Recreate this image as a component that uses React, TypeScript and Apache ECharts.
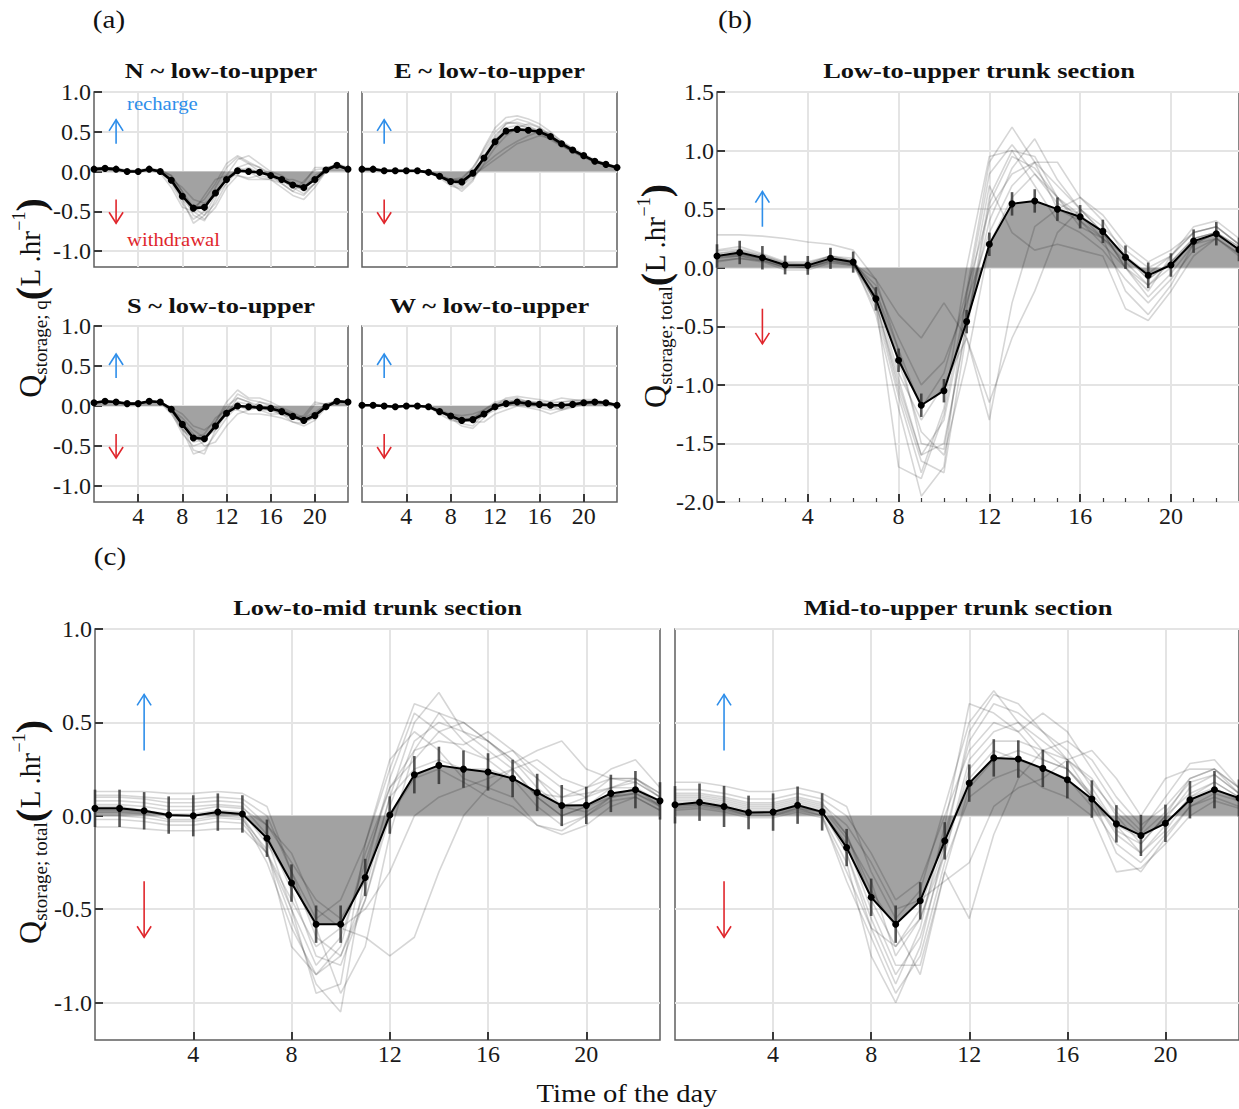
import React, { useEffect, useRef } from "react";
import * as echarts from "echarts";

const FONT = "'Liberation Serif', 'Times New Roman', serif";
const BLUE = "#2E8EEA";
const RED = "#E0262C";

const HOURS = [0, 1, 2, 3, 4, 5, 6, 7, 8, 9, 10, 11, 12, 13, 14, 15, 16, 17, 18, 19, 20, 21, 22, 23];
const X_TICKS = [4, 8, 12, 16, 20];
const Y_TICKS_SMALL = [-1.0, -0.5, 0.0, 0.5, 1.0];
const Y_TICKS_B = [-2.0, -1.5, -1.0, -0.5, 0.0, 0.5, 1.0, 1.5];

// ---- Panel (a): directional storage (mean of days) ----
const meanN = [0.03, 0.04, 0.03, 0.0, 0.0, 0.03, 0.0, -0.11, -0.31, -0.46, -0.45, -0.27, -0.1, 0.01, 0.0, -0.01, -0.05, -0.1, -0.17, -0.2, -0.1, 0.02, 0.08, 0.03];
const meanE = [0.03, 0.03, 0.01, 0.01, 0.01, 0.01, -0.01, -0.06, -0.125, -0.13, -0.02, 0.17, 0.375, 0.51, 0.53, 0.52, 0.5, 0.44, 0.35, 0.27, 0.2, 0.13, 0.09, 0.05];
const meanS = [0.04, 0.06, 0.05, 0.03, 0.03, 0.06, 0.05, -0.04, -0.23, -0.4, -0.41, -0.25, -0.09, 0.0, -0.01, -0.02, -0.03, -0.07, -0.13, -0.18, -0.12, -0.01, 0.06, 0.05];
const meanW = [0.01, 0.01, 0.0, -0.01, 0.0, 0.0, -0.01, -0.07, -0.125, -0.18, -0.17, -0.1, -0.01, 0.03, 0.05, 0.03, 0.02, 0.01, 0.01, 0.02, 0.04, 0.05, 0.04, 0.01];

const daysN = [
  [0.05, 0.05, 0.04, 0.02, 0.02, 0.04, 0.02, -0.05, -0.25, -0.55, -0.62, -0.35, -0.05, 0.15, 0.2, 0.1, 0.0, -0.05, -0.15, -0.25, -0.15, 0.02, 0.1, 0.05],
  [0.04, 0.04, 0.03, 0.01, 0.0, 0.03, 0.0, -0.15, -0.4, -0.6, -0.5, -0.2, 0.05, 0.18, 0.1, 0.05, -0.05, -0.1, -0.2, -0.22, -0.1, 0.05, 0.08, 0.04],
  [0.02, 0.03, 0.02, 0.0, -0.01, 0.02, -0.02, -0.2, -0.45, -0.5, -0.3, -0.1, -0.05, -0.05, -0.1, -0.1, -0.1, -0.15, -0.25, -0.3, -0.15, 0.0, 0.07, 0.03],
  [0.03, 0.04, 0.03, 0.0, 0.0, 0.03, 0.01, -0.08, -0.3, -0.45, -0.55, -0.4, -0.15, 0.05, 0.1, 0.0, -0.05, -0.1, -0.1, -0.15, 0.05, 0.05, 0.08, 0.02],
  [0.04, 0.05, 0.04, 0.01, 0.01, 0.03, 0.0, -0.12, -0.35, -0.5, -0.6, -0.45, -0.2, -0.05, -0.08, -0.05, -0.08, -0.12, -0.2, -0.28, -0.15, 0.0, 0.09, 0.04],
  [0.03, 0.03, 0.02, 0.0, 0.0, 0.02, 0.0, -0.1, -0.2, -0.35, -0.4, -0.3, -0.15, 0.0, 0.05, -0.02, -0.05, -0.15, -0.25, -0.12, 0.02, 0.04, 0.07, 0.03],
  [0.02, 0.04, 0.03, 0.0, 0.0, 0.04, 0.01, -0.05, -0.25, -0.45, -0.35, -0.15, 0.1, 0.2, 0.12, 0.05, -0.02, -0.1, -0.15, -0.2, -0.05, 0.03, 0.09, 0.04],
  [0.03, 0.04, 0.03, 0.0, 0.0, 0.03, 0.0, -0.12, -0.35, -0.65, -0.55, -0.3, -0.1, 0.05, 0.0, -0.08, -0.1, -0.2, -0.3, -0.35, -0.2, 0.0, 0.08, 0.03],
];
const daysE = [
  [0.03, 0.03, 0.02, 0.01, 0.01, 0.01, 0.0, -0.05, -0.15, -0.2, 0.0, 0.3, 0.55, 0.68, 0.7, 0.66, 0.6, 0.5, 0.38, 0.28, 0.2, 0.13, 0.09, 0.05],
  [0.03, 0.03, 0.01, 0.01, 0.01, 0.01, -0.01, -0.08, -0.18, -0.22, -0.1, 0.1, 0.3, 0.45, 0.55, 0.6, 0.55, 0.45, 0.35, 0.27, 0.2, 0.14, 0.1, 0.06],
  [0.02, 0.03, 0.01, 0.0, 0.0, 0.0, -0.02, -0.07, -0.1, -0.12, -0.05, 0.05, 0.15, 0.25, 0.35, 0.4, 0.45, 0.42, 0.33, 0.25, 0.18, 0.12, 0.08, 0.05],
  [0.03, 0.03, 0.01, 0.01, 0.01, 0.01, 0.0, -0.04, -0.1, -0.1, 0.05, 0.25, 0.45, 0.6, 0.62, 0.58, 0.5, 0.42, 0.33, 0.25, 0.19, 0.12, 0.08, 0.05],
  [0.03, 0.02, 0.01, 0.01, 0.01, 0.01, -0.01, -0.06, -0.14, -0.16, -0.05, 0.15, 0.4, 0.55, 0.58, 0.55, 0.52, 0.45, 0.36, 0.28, 0.2, 0.13, 0.09, 0.05],
  [0.03, 0.03, 0.02, 0.01, 0.01, 0.01, 0.0, -0.05, -0.12, -0.18, -0.08, 0.08, 0.2, 0.3, 0.38, 0.45, 0.5, 0.48, 0.38, 0.3, 0.22, 0.15, 0.1, 0.06],
  [0.03, 0.03, 0.01, 0.01, 0.01, 0.01, -0.01, -0.06, -0.1, -0.08, 0.05, 0.28, 0.5, 0.62, 0.6, 0.55, 0.48, 0.4, 0.32, 0.25, 0.18, 0.12, 0.08, 0.04],
  [0.03, 0.03, 0.02, 0.01, 0.01, 0.01, 0.0, -0.07, -0.15, -0.25, -0.12, 0.2, 0.42, 0.6, 0.66, 0.62, 0.56, 0.46, 0.36, 0.28, 0.2, 0.13, 0.09, 0.05],
];
const daysS = [
  [0.05, 0.06, 0.05, 0.03, 0.03, 0.06, 0.05, -0.02, -0.25, -0.55, -0.6, -0.3, -0.05, 0.15, 0.08, 0.05, 0.02, -0.05, -0.1, -0.2, -0.1, 0.0, 0.07, 0.05],
  [0.04, 0.06, 0.05, 0.03, 0.03, 0.06, 0.05, -0.08, -0.35, -0.5, -0.45, -0.2, 0.05, 0.2, 0.1, 0.1, 0.05, -0.02, -0.08, -0.15, -0.08, 0.02, 0.06, 0.05],
  [0.04, 0.05, 0.05, 0.03, 0.03, 0.05, 0.04, -0.1, -0.3, -0.4, -0.35, -0.15, -0.05, -0.05, -0.1, -0.1, -0.12, -0.15, -0.2, -0.25, -0.18, -0.02, 0.05, 0.04],
  [0.05, 0.06, 0.05, 0.03, 0.03, 0.06, 0.05, -0.03, -0.2, -0.35, -0.5, -0.45, -0.25, -0.1, -0.05, 0.05, 0.0, -0.05, -0.1, -0.2, -0.15, 0.0, 0.06, 0.05],
  [0.04, 0.06, 0.05, 0.03, 0.03, 0.06, 0.05, -0.05, -0.15, -0.3, -0.4, -0.3, -0.1, 0.1, 0.05, -0.05, -0.1, -0.1, -0.15, -0.12, 0.05, 0.02, 0.07, 0.05],
  [0.05, 0.06, 0.05, 0.03, 0.03, 0.06, 0.05, -0.05, -0.3, -0.6, -0.55, -0.35, -0.15, 0.0, -0.05, -0.02, -0.05, -0.1, -0.2, -0.22, -0.12, -0.01, 0.06, 0.05],
  [0.04, 0.05, 0.05, 0.03, 0.03, 0.05, 0.05, -0.02, -0.1, -0.25, -0.3, -0.2, 0.0, 0.1, 0.05, 0.0, -0.02, -0.08, -0.12, -0.15, 0.02, 0.03, 0.06, 0.05],
  [0.05, 0.06, 0.05, 0.03, 0.03, 0.06, 0.05, -0.06, -0.28, -0.45, -0.42, -0.25, -0.08, 0.05, 0.02, -0.04, -0.06, -0.1, -0.15, -0.2, -0.12, -0.01, 0.06, 0.05],
];
const daysW = [
  [0.01, 0.01, 0.0, -0.01, 0.0, 0.0, -0.01, -0.05, -0.15, -0.25, -0.28, -0.15, 0.0, 0.1, 0.12, 0.1, 0.08, 0.05, 0.05, 0.07, 0.08, 0.08, 0.05, 0.02],
  [0.01, 0.01, 0.0, -0.01, 0.0, 0.0, -0.01, -0.1, -0.18, -0.2, -0.15, -0.05, 0.05, 0.08, 0.1, 0.05, 0.03, 0.0, -0.05, 0.0, 0.05, 0.06, 0.05, 0.01],
  [0.01, 0.01, 0.0, -0.01, 0.0, 0.0, -0.02, -0.08, -0.1, -0.15, -0.2, -0.2, -0.1, -0.05, 0.0, -0.02, -0.05, -0.1, -0.05, -0.02, 0.02, 0.04, 0.04, 0.01],
  [0.01, 0.01, 0.0, -0.01, 0.0, 0.0, -0.01, -0.06, -0.12, -0.2, -0.15, -0.08, 0.02, 0.05, 0.08, 0.06, 0.05, 0.06, 0.1, 0.08, 0.06, 0.06, 0.04, 0.01],
  [0.01, 0.01, 0.0, -0.01, 0.0, 0.0, -0.01, -0.07, -0.14, -0.22, -0.25, -0.1, 0.0, 0.04, 0.03, 0.0, -0.02, -0.05, -0.03, 0.0, 0.04, 0.05, 0.04, 0.01],
  [0.01, 0.01, 0.0, -0.01, 0.0, 0.0, -0.01, -0.05, -0.1, -0.12, -0.1, -0.05, 0.03, 0.06, 0.07, 0.05, 0.04, 0.03, 0.05, 0.06, 0.06, 0.06, 0.05, 0.02],
  [0.01, 0.01, 0.0, -0.01, 0.0, 0.0, -0.01, -0.08, -0.15, -0.18, -0.2, -0.12, -0.05, 0.0, 0.05, 0.02, 0.0, -0.02, 0.0, 0.03, 0.04, 0.05, 0.04, 0.01],
];

// ---- Panel (b): low-to-upper trunk section ----
const meanB = [0.1, 0.13, 0.085, 0.023, 0.02, 0.08, 0.048, -0.266, -0.79, -1.174, -1.05, -0.46, 0.2, 0.545, 0.57, 0.5, 0.435, 0.31, 0.09, -0.065, 0.023, 0.227, 0.29, 0.156];
const errB = [0.1, 0.1, 0.1, 0.08, 0.08, 0.09, 0.09, 0.1, 0.1, 0.1, 0.1, 0.1, 0.1, 0.1, 0.1, 0.1, 0.1, 0.1, 0.1, 0.11, 0.1, 0.1, 0.1, 0.1];
const daysB = [
  [0.28, 0.28, 0.27, 0.25, 0.22, 0.2, 0.15, -0.1, -0.7, -1.2, -0.9, -0.2, 0.5, 0.8, 0.9, 0.7, 0.5, 0.35, 0.15, 0.0, 0.1, 0.3, 0.35, 0.2],
  [0.15, 0.18, 0.12, 0.05, 0.05, 0.1, 0.08, -0.3, -1.0, -1.6, -1.5, -0.5, 0.6, 1.0, 0.95, 0.6, 0.45, 0.3, 0.1, -0.1, 0.05, 0.25, 0.3, 0.18],
  [0.1, 0.12, 0.08, 0.02, 0.0, 0.08, 0.05, -0.4, -1.2, -1.95, -1.7, -0.2, 0.9, 1.2, 0.9, 0.5, 0.4, 0.2, 0.0, -0.25, -0.05, 0.2, 0.3, 0.15],
  [0.12, 0.14, 0.1, 0.04, 0.03, 0.1, 0.06, -0.2, -0.8, -1.4, -1.6, -0.8, 0.2, 0.6, 0.8, 0.6, 0.35, 0.25, 0.05, -0.15, 0.0, 0.25, 0.3, 0.15],
  [0.08, 0.1, 0.07, 0.0, 0.0, 0.05, 0.02, -0.35, -1.1, -1.75, -1.2, 0.0, 0.95, 1.0, 0.7, 0.4, 0.3, 0.15, -0.1, -0.3, -0.1, 0.15, 0.25, 0.12],
  [0.05, 0.08, 0.05, -0.02, -0.02, 0.04, 0.02, -0.25, -0.9, -1.3, -1.0, -0.6, -1.3, -0.3, 0.35, 0.5, 0.6, 0.4, 0.1, -0.1, 0.05, 0.2, 0.25, 0.12],
  [0.1, 0.12, 0.08, 0.02, 0.02, 0.08, 0.04, -0.15, -0.6, -1.0, -0.8, -0.3, 0.3, 0.7, 0.9, 0.9, 0.6, 0.45, 0.2, 0.05, 0.15, 0.3, 0.35, 0.2],
  [0.06, 0.08, 0.06, 0.0, 0.0, 0.06, 0.03, -0.3, -1.7, -1.8, -1.25, -0.25, 0.8, 1.05, 0.8, 0.55, 0.45, 0.25, -0.2, -0.4, -0.15, 0.2, 0.3, 0.15],
  [0.12, 0.15, 0.1, 0.03, 0.03, 0.09, 0.05, -0.2, -0.7, -1.5, -1.55, -0.45, 0.4, 0.85, 1.1, 0.75, 0.5, 0.3, 0.0, -0.2, 0.1, 0.35, 0.4, 0.25],
  [0.09, 0.1, 0.06, 0.01, 0.0, 0.06, 0.03, -0.3, -0.95, -1.6, -1.3, -0.35, 0.7, 0.3, 0.15, 0.2, 0.15, 0.1, -0.35, -0.45, -0.2, 0.1, 0.25, 0.1],
  [0.1, 0.11, 0.08, 0.02, 0.02, 0.07, 0.04, -0.1, -0.4, -0.6, -0.3, -0.6, -1.15, -0.6, -0.2, 0.3, 0.5, 0.3, 0.0, -0.15, 0.05, 0.25, 0.3, 0.18],
  [0.14, 0.16, 0.11, 0.04, 0.04, 0.1, 0.06, -0.3, -1.05, -1.65, -1.75, -0.55, 0.55, 0.95, 0.85, 0.6, 0.4, 0.25, 0.1, -0.05, 0.1, 0.3, 0.35, 0.2],
];

// ---- Panel (c): low-to-mid and mid-to-upper trunk sections ----
const meanCL = [0.04, 0.04, 0.027, 0.004, 0.0, 0.02, 0.01, -0.12, -0.36, -0.58, -0.58, -0.33, 0.004, 0.22, 0.27, 0.25, 0.235, 0.2, 0.125, 0.055, 0.056, 0.12, 0.14, 0.08];
const errCL = [0.1, 0.1, 0.1, 0.1, 0.11, 0.1, 0.1, 0.1, 0.1, 0.1, 0.1, 0.1, 0.1, 0.1, 0.1, 0.1, 0.1, 0.1, 0.1, 0.11, 0.1, 0.1, 0.1, 0.1];
const daysCL = [
  [0.13, 0.13, 0.13, 0.12, 0.12, 0.13, 0.12, 0.05, -0.3, -0.65, -0.75, -0.4, 0.1, 0.5, 0.66, 0.45, 0.4, 0.3, 0.15, 0.05, 0.1, 0.2, 0.2, 0.12],
  [0.08, 0.08, 0.07, 0.05, 0.05, 0.06, 0.05, -0.1, -0.4, -0.75, -0.8, -0.45, 0.05, 0.4, 0.5, 0.45, 0.35, 0.25, 0.1, 0.0, 0.05, 0.15, 0.18, 0.1],
  [0.05, 0.05, 0.03, 0.0, 0.0, 0.02, 0.0, -0.2, -0.55, -0.9, -1.05, -0.3, 0.2, 0.55, 0.45, 0.35, 0.3, 0.2, 0.05, -0.05, 0.0, 0.1, 0.15, 0.08],
  [0.02, 0.02, 0.01, -0.02, -0.02, 0.0, -0.01, -0.25, -0.6, -0.85, -0.7, -0.2, 0.15, 0.35, 0.4, 0.38, 0.45, 0.35, 0.2, 0.1, 0.12, 0.15, 0.15, 0.05],
  [-0.02, -0.02, -0.03, -0.05, -0.05, -0.03, -0.04, -0.2, -0.5, -0.95, -0.9, -0.15, 0.3, 0.45, 0.35, 0.2, 0.15, 0.1, -0.05, -0.1, -0.05, 0.05, 0.1, 0.03],
  [0.1, 0.1, 0.09, 0.07, 0.07, 0.08, 0.07, -0.05, -0.2, -0.5, -0.6, -0.65, -0.75, -0.65, -0.3, 0.0, 0.15, 0.25, 0.3, 0.2, 0.15, 0.2, 0.2, 0.12],
  [-0.06, -0.06, -0.07, -0.08, -0.08, -0.07, -0.07, -0.2, -0.45, -0.7, -0.6, -0.5, -0.3, 0.0, 0.1, 0.15, 0.2, 0.25, 0.1, 0.0, 0.05, 0.1, 0.12, 0.05],
  [0.04, 0.04, 0.03, 0.01, 0.01, 0.03, 0.02, -0.15, -0.35, -0.6, -0.95, -0.7, -0.1, 0.35, 0.55, 0.5, 0.4, 0.28, 0.35, 0.4, 0.25, 0.2, 0.18, 0.1],
  [0.06, 0.06, 0.05, 0.03, 0.03, 0.05, 0.04, -0.05, -0.25, -0.45, -0.55, -0.35, 0.1, 0.25, 0.3, 0.25, 0.25, 0.2, 0.12, 0.1, 0.15, 0.25, 0.3, 0.15],
  [0.0, 0.0, -0.01, -0.03, -0.03, -0.01, -0.02, -0.18, -0.7, -0.85, -0.75, -0.45, 0.0, 0.2, 0.25, 0.18, 0.1, 0.05, -0.05, -0.08, 0.0, 0.08, 0.1, 0.03],
  [0.11, 0.11, 0.1, 0.09, 0.09, 0.1, 0.09, 0.0, -0.3, -0.55, -0.45, -0.15, 0.25, 0.6, 0.55, 0.4, 0.3, 0.35, 0.25, 0.15, 0.1, 0.15, 0.2, 0.1],
  [0.03, 0.03, 0.02, 0.0, 0.0, 0.02, 0.01, -0.12, -0.5, -0.8, -0.65, -0.25, 0.15, 0.3, 0.45, 0.5, 0.4, 0.3, 0.2, 0.05, 0.02, 0.1, 0.12, 0.06],
];
const meanCR = [0.059, 0.073, 0.05, 0.018, 0.02, 0.057, 0.021, -0.17, -0.436, -0.58, -0.455, -0.134, 0.175, 0.31, 0.304, 0.254, 0.193, 0.09, -0.043, -0.105, -0.04, 0.086, 0.14, 0.095];
const errCR = [0.1, 0.1, 0.11, 0.09, 0.1, 0.1, 0.1, 0.1, 0.1, 0.1, 0.1, 0.1, 0.1, 0.1, 0.1, 0.1, 0.1, 0.1, 0.1, 0.11, 0.1, 0.1, 0.1, 0.1];
const daysCR = [
  [0.18, 0.18, 0.16, 0.13, 0.13, 0.15, 0.12, 0.05, -0.3, -0.55, -0.4, 0.05, 0.5, 0.67, 0.5, 0.35, 0.3, 0.2, 0.0, -0.15, 0.0, 0.2, 0.25, 0.15],
  [0.12, 0.12, 0.1, 0.07, 0.07, 0.1, 0.07, -0.1, -0.45, -0.7, -0.5, -0.1, 0.4, 0.6, 0.55, 0.45, 0.35, 0.15, -0.05, -0.12, -0.02, 0.15, 0.22, 0.12],
  [0.08, 0.08, 0.06, 0.03, 0.03, 0.06, 0.03, -0.2, -0.55, -0.85, -0.65, -0.2, 0.3, 0.45, 0.5, 0.4, 0.3, 0.1, -0.1, -0.2, -0.05, 0.1, 0.18, 0.1],
  [0.05, 0.06, 0.04, 0.0, 0.0, 0.04, 0.0, -0.25, -0.75, -1.0, -0.7, -0.15, 0.2, 0.35, 0.3, 0.25, 0.2, 0.05, -0.15, -0.25, -0.1, 0.05, 0.12, 0.08],
  [0.1, 0.1, 0.08, 0.05, 0.05, 0.08, 0.05, -0.1, -0.4, -0.6, -0.85, -0.3, -0.55, -0.1, 0.2, 0.35, 0.4, 0.3, 0.1, -0.05, 0.05, 0.2, 0.25, 0.12],
  [0.03, 0.04, 0.02, -0.01, -0.01, 0.02, -0.01, -0.3, -0.6, -0.9, -0.6, -0.05, 0.6, 0.55, 0.45, 0.3, 0.25, 0.1, -0.2, -0.3, -0.12, 0.05, 0.1, 0.05],
  [0.14, 0.14, 0.12, 0.09, 0.09, 0.12, 0.09, 0.0, -0.2, -0.45, -0.35, 0.0, 0.35, 0.5, 0.45, 0.55, 0.45, 0.25, 0.05, -0.08, 0.1, 0.28, 0.3, 0.15],
  [0.07, 0.07, 0.05, 0.02, 0.02, 0.05, 0.02, -0.15, -0.5, -0.8, -0.8, -0.3, 0.15, 0.3, 0.35, 0.3, 0.25, 0.1, -0.08, -0.15, 0.0, 0.12, 0.18, 0.1],
  [0.09, 0.09, 0.07, 0.04, 0.04, 0.07, 0.04, -0.12, -0.35, -0.75, -0.55, -0.15, 0.45, 0.65, 0.6, 0.45, 0.3, 0.18, 0.02, -0.1, 0.02, 0.18, 0.22, 0.12],
  [0.04, 0.05, 0.03, 0.0, 0.0, 0.03, 0.0, -0.35, -0.65, -0.95, -0.75, -0.25, 0.1, 0.2, 0.25, 0.15, 0.1, 0.0, -0.3, -0.28, -0.15, 0.0, 0.08, 0.04],
  [0.11, 0.11, 0.09, 0.06, 0.06, 0.09, 0.06, -0.05, -0.25, -0.5, -0.45, -0.35, -0.25, 0.05, 0.15, 0.2, 0.3, 0.35, 0.2, 0.0, 0.2, 0.25, 0.25, 0.15],
  [0.06, 0.06, 0.04, 0.01, 0.01, 0.04, 0.02, -0.2, -0.6, -0.7, -0.55, -0.2, 0.25, 0.4, 0.4, 0.35, 0.25, 0.12, -0.05, -0.2, -0.08, 0.1, 0.15, 0.08],
];

// recharge / withdrawal arrows: [hour, from, to]
const ARROWS = [
  [2, 0.35, 0.65],
  [2, -0.35, -0.65],
];
const ARROW_COLORS = [BLUE, RED];

type Panel = {
  left: number; top: number; width: number; height: number;
  min: number; max: number; yTicks: number[];
  mean: number[]; days: number[][]; err: number[] | null;
  yLabels: boolean; xLabels: boolean; minor: boolean; small: boolean;
  title: string; titleY: number;
};

const PANELS: Panel[] = [
  { left: 94, top: 92, width: 254, height: 175, min: -1.2, max: 1.0, yTicks: Y_TICKS_SMALL, mean: meanN, days: daysN, err: null, yLabels: true, xLabels: false, minor: false, small: true, title: "N ~ low-to-upper", titleY: 70 },
  { left: 362, top: 92, width: 255, height: 175, min: -1.2, max: 1.0, yTicks: Y_TICKS_SMALL, mean: meanE, days: daysE, err: null, yLabels: false, xLabels: false, minor: false, small: true, title: "E ~ low-to-upper", titleY: 70 },
  { left: 94, top: 326, width: 254, height: 176, min: -1.2, max: 1.0, yTicks: Y_TICKS_SMALL, mean: meanS, days: daysS, err: null, yLabels: true, xLabels: true, minor: false, small: true, title: "S ~ low-to-upper", titleY: 305 },
  { left: 362, top: 326, width: 255, height: 176, min: -1.2, max: 1.0, yTicks: Y_TICKS_SMALL, mean: meanW, days: daysW, err: null, yLabels: false, xLabels: true, minor: false, small: true, title: "W ~ low-to-upper", titleY: 305 },
  { left: 717, top: 92, width: 524, height: 410, min: -2.0, max: 1.5, yTicks: Y_TICKS_B, mean: meanB, days: daysB, err: errB, yLabels: true, xLabels: true, minor: true, small: false, title: "Low-to-upper trunk section", titleY: 70 },
  { left: 95, top: 629, width: 565, height: 411, min: -1.2, max: 1.0, yTicks: Y_TICKS_SMALL, mean: meanCL, days: daysCL, err: errCL, yLabels: true, xLabels: true, minor: false, small: false, title: "Low-to-mid trunk section", titleY: 607 },
  { left: 675, top: 629, width: 566, height: 411, min: -1.2, max: 1.0, yTicks: Y_TICKS_SMALL, mean: meanCR, days: daysCR, err: errCR, yLabels: false, xLabels: true, minor: false, small: false, title: "Mid-to-upper trunk section", titleY: 607 },
];

const TICK_COLOR = "#3a3a3a";
const GRID_LINE = "#e4e4e4";
const LABEL_COLOR = "#1a1a1a";

function buildOption() {
  const grid: any[] = [];
  const xAxis: any[] = [];
  const yAxis: any[] = [];
  const series: any[] = [];
  const graphic: any[] = [];

  PANELS.forEach((p, i) => {
    grid.push({
      left: p.left, top: p.top, width: p.width, height: p.height,
      show: true, borderColor: "#5f5f5f", borderWidth: 1.5, backgroundColor: "transparent",
      containLabel: false,
    });
    xAxis.push({
      gridIndex: i, type: "value", min: 0, max: 23, interval: 4, position: "bottom",
      axisLine: { show: false, onZero: false },
      axisTick: { show: p.xLabels, inside: true, length: 8, lineStyle: { color: TICK_COLOR, width: 2 }, customValues: X_TICKS },
      minorTick: { show: p.minor, splitNumber: 4, length: 4, lineStyle: { color: TICK_COLOR, width: 1.2 } },
      axisLabel: { show: p.xLabels, customValues: X_TICKS, fontFamily: FONT, fontSize: 24, color: LABEL_COLOR, margin: 2, formatter: (v: number) => String(v) },
      splitLine: { show: true, lineStyle: { color: GRID_LINE, width: 2 } },
    });
    yAxis.push({
      gridIndex: i, type: "value", min: p.min, max: p.max, position: "left",
      axisLine: { show: false, onZero: false },
      axisTick: { show: p.yLabels, inside: true, length: 8, lineStyle: { color: TICK_COLOR, width: 2 }, customValues: p.yTicks },
      axisLabel: { show: p.yLabels, customValues: p.yTicks, fontFamily: FONT, fontSize: 24, color: LABEL_COLOR, margin: 3, formatter: (v: number) => v.toFixed(1) },
      splitLine: { show: true, lineStyle: { color: GRID_LINE, width: 2 } },
    });

    const meanData = HOURS.map((h, k) => [h, p.mean[k]]);
    // shaded area between the mean curve and zero
    series.push({
      type: "line", xAxisIndex: i, yAxisIndex: i, data: meanData, symbol: "none",
      lineStyle: { width: 0, opacity: 0 }, areaStyle: { color: "#a2a2a2", opacity: 1 },
      silent: true, z: 1,
    });
    // individual days
    p.days.forEach((d) => {
      series.push({
        type: "line", xAxisIndex: i, yAxisIndex: i, data: HOURS.map((h, k) => [h, d[k]]),
        symbol: "none", lineStyle: { color: "rgba(0,0,0,0.16)", width: 1.6 }, silent: true, z: 2,
      });
    });
    // error bars
    if (p.err) {
      const err = p.err;
      series.push({
        type: "custom", xAxisIndex: i, yAxisIndex: i, silent: true, z: 3,
        data: HOURS.map((h, k) => [h, p.mean[k] - err[k], p.mean[k] + err[k]]),
        renderItem: (params: any, api: any) => {
          const a = api.coord([api.value(0), api.value(1)]);
          const b = api.coord([api.value(0), api.value(2)]);
          return { type: "line", shape: { x1: a[0], y1: a[1], x2: b[0], y2: b[1] }, style: { stroke: "rgba(45,45,45,0.8)", lineWidth: 2.6 } };
        },
      });
    }
    // mean line with points
    series.push({
      type: "line", xAxisIndex: i, yAxisIndex: i, data: meanData,
      symbol: "circle", symbolSize: 7, showAllSymbol: true,
      lineStyle: { color: "#000", width: p.small ? 2.6 : 2 }, itemStyle: { color: "#000" },
      silent: true, z: 4,
    });
    // recharge / withdrawal arrows
    series.push({
      type: "custom", xAxisIndex: i, yAxisIndex: i, silent: true, z: 5,
      data: ARROWS,
      renderItem: (params: any, api: any) => {
        const a = api.coord([api.value(0), api.value(1)]);
        const b = api.coord([api.value(0), api.value(2)]);
        const color = ARROW_COLORS[params.dataIndex];
        const dir = b[1] < a[1] ? 1 : -1;
        return {
          type: "group",
          children: [
            { type: "line", shape: { x1: a[0], y1: a[1], x2: b[0], y2: b[1] }, style: { stroke: color, lineWidth: 1.6 } },
            { type: "polyline", shape: { points: [[b[0] - 7, b[1] + dir * 11], [b[0], b[1]], [b[0] + 7, b[1] + dir * 11]] }, style: { stroke: color, lineWidth: 1.6, fill: null } },
          ],
        };
      },
    });

    graphic.push({
      type: "text", x: p.left + p.width / 2, y: p.titleY, scaleX: 1.2, silent: true, z: 100,
      style: { text: p.title, fontFamily: FONT, fontWeight: "bold", fontSize: 22, fill: "#111", align: "center", verticalAlign: "middle" },
    });
  });

  const rich = {
    q: { fontFamily: FONT, fontSize: 32, fill: "#111", verticalAlign: "middle", lineHeight: 40 },
    sub: { fontFamily: FONT, fontSize: 19, fill: "#111", verticalAlign: "bottom", lineHeight: 24 },
    p: { fontFamily: FONT, fontSize: 40, fill: "#111", verticalAlign: "middle", lineHeight: 40, fontWeight: "bold" },
    n: { fontFamily: FONT, fontSize: 29, fill: "#111", verticalAlign: "middle", lineHeight: 40 },
    sup: { fontFamily: FONT, fontSize: 18, fill: "#111", verticalAlign: "top", lineHeight: 24 },
  };
  const yTitle = (x: number, y: number, sub: string) => ({
    type: "text", x, y, rotation: Math.PI / 2, silent: true, z: 100,
    style: { text: `{q|Q}{sub|${sub}}{p|(}{n|L .hr}{sup|−1}{p|)}`, rich, align: "center", verticalAlign: "middle" },
  });
  graphic.push(yTitle(30, 298, "storage; q"));
  graphic.push(yTitle(655, 296, "storage; total"));
  graphic.push(yTitle(30, 832, "storage; total"));

  const tag = (x: number, y: number, t: string) => ({
    type: "text", x, y, scaleX: 1.12, silent: true, z: 100,
    style: { text: t, fontFamily: FONT, fontSize: 26, fill: "#111", align: "center", verticalAlign: "middle" },
  });
  graphic.push(tag(109, 19, "(a)"));
  graphic.push(tag(735, 19, "(b)"));
  graphic.push(tag(110, 556, "(c)"));

  graphic.push({ type: "text", x: 127, y: 104, scaleX: 1.15, silent: true, z: 100, style: { text: "recharge", fontFamily: FONT, fontSize: 18, fill: BLUE, align: "left", verticalAlign: "middle" } });
  graphic.push({ type: "text", x: 127, y: 240, scaleX: 1.15, silent: true, z: 100, style: { text: "withdrawal", fontFamily: FONT, fontSize: 18, fill: RED, align: "left", verticalAlign: "middle" } });

  graphic.push({ type: "text", x: 627, y: 1093, scaleX: 1.1, silent: true, z: 100, style: { text: "Time of the day", fontFamily: FONT, fontSize: 26, fill: "#111", align: "center", verticalAlign: "middle" } });

  return { animation: false, backgroundColor: "#ffffff", grid, xAxis, yAxis, series, graphic };
}

export default function App() {
  const ref = useRef<HTMLDivElement>(null);
  useEffect(() => {
    document.body.style.margin = "0";
    document.body.style.overflow = "hidden";
    if (!ref.current) return;
    const chart = echarts.init(ref.current, null, { renderer: "svg" });
    chart.setOption(buildOption() as any);
    return () => chart.dispose();
  }, []);
  return <div ref={ref} style={{ width: 1239, height: 1109 }} />;
}
